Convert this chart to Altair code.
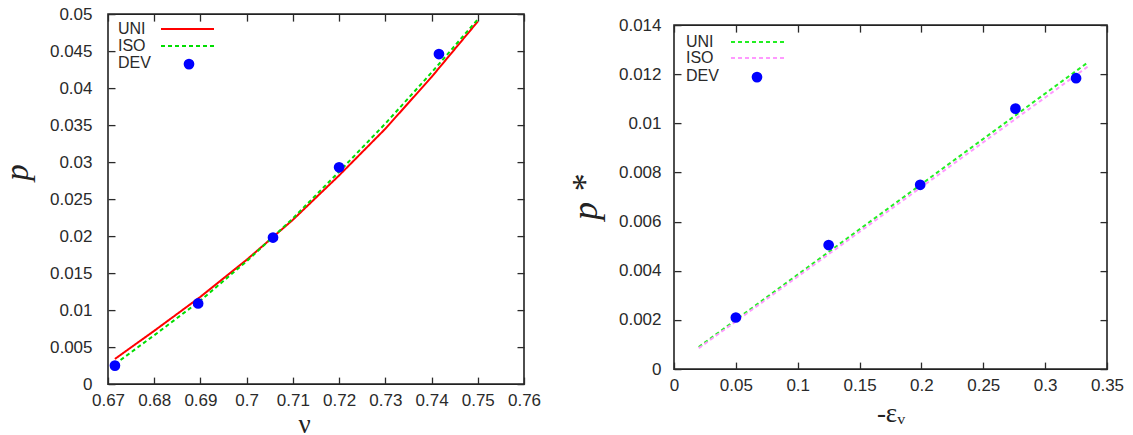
import altair as alt
import pandas as pd

# ---------------- data ----------------
# Left panel: p vs nu
L_NU = [0.6715, 0.68, 0.69, 0.70, 0.71, 0.72, 0.73, 0.74, 0.75]
L_UNI = [0.0034, 0.0072, 0.0118, 0.0168, 0.0222, 0.0282, 0.0345, 0.0415, 0.0490]
L_ISO = [0.0027, 0.0066, 0.0113, 0.0166, 0.0224, 0.0287, 0.0352, 0.0421, 0.0493]
L_DEV_NU = [0.6715, 0.6895, 0.7057, 0.7200, 0.7416]
L_DEV_P = [0.0025, 0.0109, 0.0198, 0.0293, 0.0446]
L_XTICKS = [0.67, 0.68, 0.69, 0.70, 0.71, 0.72, 0.73, 0.74, 0.75, 0.76]
L_YTICKS = [0, 0.005, 0.01, 0.015, 0.02, 0.025, 0.03, 0.035, 0.04, 0.045, 0.05]

# Right panel: p* vs -eps_v
R_EPS = [0.02, 0.335]
R_UNI = [0.00090, 0.01250]
R_ISO = [0.00085, 0.01233]
R_DEV_EPS = [0.050, 0.125, 0.199, 0.276, 0.325]
R_DEV_P = [0.0021, 0.00505, 0.0075, 0.0106, 0.01184]
R_XTICKS = [0, 0.05, 0.1, 0.15, 0.2, 0.25, 0.3, 0.35]
R_YTICKS = [0, 0.002, 0.004, 0.006, 0.008, 0.01, 0.012, 0.014]

LEGEND_LABELS = ["UNI", "ISO", "DEV"]

TICK_FONT = "Liberation Sans"
TITLE_FONT = "Liberation Serif"
TXT = "#2a2a2a"
DEV_COLOR = "#0000ff"


def panel(xs, uni, iso, dev_x, dev_y, xdom, ydom, xticks, yticks,
          xtitle, ytitle, w, h, colors, dashes, widths, leg,
          ylabpad, ytitlepad, ytitlesize, xtitlepad, xtitle_x=None, ytitle_y=None):
    line_df = pd.DataFrame({"x": xs, "uni": uni, "iso": iso})
    dev_df = pd.DataFrame({"x": dev_x, "y": dev_y})

    xs_scale = alt.Scale(domain=xdom, nice=False, zero=False)
    ys_scale = alt.Scale(domain=ydom, nice=False, zero=False)

    bottom_kw = dict(orient="bottom", values=xticks, format="~g", offset=-7,
                     tickSize=7, domain=False, grid=False, labelPadding=8,
                     labelFlush=False, labelOverlap=False,
                     labelFont=TICK_FONT, labelFontSize=17, labelColor=TXT,
                     tickColor=TXT, tickWidth=1.3, title=xtitle,
                     titleFont=TITLE_FONT, titleFontSize=27,
                     titleFontWeight="normal", titleColor="#222",
                     titlePadding=xtitlepad)
    if xtitle_x is not None:
        bottom_kw["titleX"] = xtitle_x
    left_kw = dict(orient="left", values=yticks, format="~g", offset=-7,
                   tickSize=7, domain=False, grid=False, labelPadding=ylabpad,
                   labelFlush=False, labelOverlap=False,
                   labelFont=TICK_FONT, labelFontSize=17, labelColor=TXT,
                   tickColor=TXT, tickWidth=1.3, title=ytitle,
                   titleFont=TITLE_FONT, titleFontSize=ytitlesize,
                   titleFontStyle="italic", titleFontWeight="normal",
                   titleColor="#222", titlePadding=ytitlepad)
    if ytitle_y is not None:
        left_kw["titleY"] = ytitle_y
    ax_bottom = alt.Axis(**bottom_kw)
    ax_left = alt.Axis(**left_kw)
    ax_top = alt.Axis(orient="top", values=xticks, labels=False, title=None,
                      offset=-7, tickSize=7, domain=False, grid=False,
                      tickColor=TXT, tickWidth=1.3)
    ax_right = alt.Axis(orient="right", values=yticks, labels=False, title=None,
                        offset=-7, tickSize=7, domain=False, grid=False,
                        tickColor=TXT, tickWidth=1.3)

    uni_line = alt.Chart(line_df).mark_line(
        color=colors[0], strokeWidth=widths[0], strokeDash=dashes[0]
    ).encode(
        x=alt.X("x:Q", scale=xs_scale, axis=ax_bottom),
        y=alt.Y("uni:Q", scale=ys_scale, axis=ax_left),
    )
    iso_line = alt.Chart(line_df).mark_line(
        color=colors[1], strokeWidth=widths[1], strokeDash=dashes[1]
    ).encode(
        x=alt.X("x:Q", scale=xs_scale, axis=None),
        y=alt.Y("iso:Q", scale=ys_scale, axis=None),
    )
    pts = alt.Chart(dev_df).mark_point(
        filled=True, shape="circle", size=115, color=DEV_COLOR, opacity=1
    ).encode(
        x=alt.X("x:Q", scale=xs_scale, axis=ax_top),
        y=alt.Y("y:Q", scale=ys_scale, axis=ax_right),
    )

    # key (gnuplot style: text then sample)
    tx, ty, lx1, lx2, px = leg
    layers = [uni_line, iso_line, pts]
    for i, lab in enumerate(LEGEND_LABELS):
        df = pd.DataFrame({"label": [lab]})
        layers.append(
            alt.Chart(df).mark_text(align="left", baseline="middle",
                                    font=TICK_FONT, fontSize=16, color=TXT)
            .encode(x=alt.value(tx), y=alt.value(ty[i]), text="label:N")
        )
        if i < 2:
            layers.append(
                alt.Chart(df).mark_rule(color=colors[i], strokeWidth=widths[i],
                                        strokeDash=dashes[i])
                .encode(x=alt.value(lx1), x2=alt.value(lx2), y=alt.value(ty[i]))
            )
        else:
            layers.append(
                alt.Chart(df).mark_point(filled=True, shape="circle", size=115,
                                         color=DEV_COLOR, opacity=1)
                .encode(x=alt.value(px), y=alt.value(ty[i] + 1))
            )

    return alt.layer(*layers).resolve_axis(x="independent", y="independent").properties(
        width=w, height=h
    )


left = panel(L_NU, L_UNI, L_ISO, L_DEV_NU, L_DEV_P, [0.67, 0.76], [0, 0.05],
             L_XTICKS, L_YTICKS, "ν", "p", 416, 370,
             colors=["#ff0000", "#00dd00"], dashes=[[1, 0], [4, 3]],
             widths=[2, 2], leg=(10, [15, 32, 49], 53, 106, 81),
             ylabpad=16, ytitlepad=15, ytitlesize=33, xtitlepad=3,
             xtitle_x=196, ytitle_y=158)

right = panel(R_EPS, R_UNI, R_ISO, R_DEV_EPS, R_DEV_P, [0, 0.35], [0, 0.014],
              R_XTICKS, R_YTICKS, "-εᵥ", "p *", 433, 344,
              colors=["#22ee22", "#ff99ff"], dashes=[[4, 3], [4, 3]],
              widths=[2, 2], leg=(12, [17, 33, 51], 57, 112, 83),
              ylabpad=13, ytitlepad=14, ytitlesize=36, xtitlepad=7)

chart = alt.hconcat(left, right, spacing=24, center=True).properties(
    padding={"left": -8, "top": -4, "right": 0, "bottom": 0}
).configure_view(stroke="#222222", strokeWidth=1.6)

chart.save("out.html", embed_options={"renderer": "svg", "actions": False})
